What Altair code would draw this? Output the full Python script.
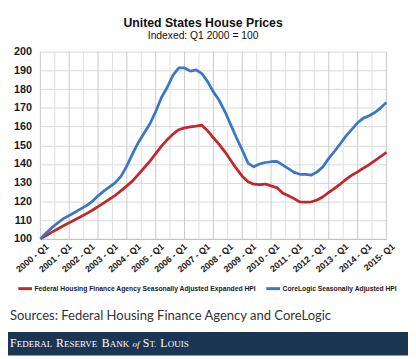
import altair as alt
import pandas as pd

# ---------------- data ----------------
quarters = list(range(61))  # 2000-Q1 ... 2015-Q1

fhfa = [100.0, 101.8, 103.6, 105.3, 107.0, 108.6, 110.2, 111.8, 113.5, 115.3,
        117.2, 119.2, 121.2, 123.3, 125.8, 128.3, 131.0, 134.5, 138.0, 141.5,
        145.5, 149.5, 153.0, 156.0, 158.3, 159.3, 159.8, 160.2, 160.7, 157.8,
        154.0, 150.5, 146.5, 142.0, 137.5, 133.5, 130.5, 129.2, 129.0, 129.3,
        128.3, 127.4, 124.5, 123.0, 121.5, 119.7, 119.6, 119.8, 120.8, 122.5,
        124.8, 127.0, 129.3, 131.8, 134.0, 135.8, 137.8, 139.6, 141.8, 144.0,
        146.2]

corelogic = [100.0, 103.2, 106.0, 108.5, 110.8, 112.5, 114.2, 116.0, 117.8, 120.0,
             123.0, 125.5, 127.8, 130.0, 133.5, 139.0, 145.5, 151.5, 156.5, 161.5,
             168.0, 175.5, 181.0, 187.5, 191.3, 191.3, 189.6, 190.3, 188.3, 184.0,
             178.5, 174.0, 168.0, 161.0, 154.0, 147.5, 140.5, 138.5, 140.0, 140.8,
             141.2, 141.4, 139.5, 137.5, 135.5, 134.5, 134.5, 134.1, 135.8, 138.5,
             143.0, 146.8, 150.8, 155.0, 158.5, 162.0, 164.5, 165.8, 167.5, 170.0,
             172.8]

series_names = ["Federal Housing Finance Agency Seasonally Adjusted Expanded HPI",
                "CoreLogic Seasonally Adjusted HPI"]
series_colors = ["#c1272d", "#3a77c4"]

year_labels = ["2000 - Q1", "2001 - Q1", "2002 - Q1", "2003 - Q1", "2004 - Q1",
               "2005 - Q1", "2006 - Q1", "2007 - Q1", "2008 - Q1", "2009 - Q1",
               "2010 - Q1", "2011 - Q1", "2012 - Q1", "2013 - Q1", "2014 - Q1",
               "2015- Q1"]
label_quarters = [0, 4, 8, 12, 16, 20, 24, 28, 32, 36, 40, 44, 48, 52, 56, 60]
y_ticks = [100, 110, 120, 130, 140, 150, 160, 170, 180, 190, 200]
grid_quarters = [0, 2.5, 5, 7.5, 10, 12.5, 15, 17.5, 20, 22.5, 25, 27.5, 30,
                 32.5, 35, 37.5, 40, 42.5, 45, 47.5, 50, 52.5, 55, 57.5, 60]

title_text = "United States House Prices"
subtitle_text = "Indexed: Q1 2000 = 100"
source_text = "Sources: Federal Housing Finance Agency and CoreLogic"

# ---------------- build ----------------
df = pd.DataFrame({
    "q": quarters + quarters,
    "value": fhfa + corelogic,
    "series": [series_names[0]] * len(quarters) + [series_names[1]] * len(quarters),
})

FONT = "Liberation Sans"
W, H = 353, 191

x_scale = alt.Scale(domain=[0, 60], nice=False, zero=False)
label_expr = "[" + ",".join("'" + s + "'" for s in year_labels) + "][round(datum.value / 4)]"

x_axis = alt.Axis(values=label_quarters, labelExpr=label_expr, labelAngle=-40,
                  grid=False, ticks=False, domain=True, domainColor="#bdbdbd",
                  labelFont=FONT, labelFontSize=9, labelFontWeight="bold",
                  labelColor="#1a1a1a", labelPadding=3, labelOffset=4,
                  labelOverlap=False, labelFlush=False, labelBound=False, title=None)

vgrid = alt.Chart(pd.DataFrame({"g": grid_quarters})).mark_rule(strokeWidth=1).encode(
    x=alt.X("g:Q", scale=x_scale, axis=x_axis),
    color=alt.condition("datum.g % 5 == 0", alt.value("#c9c9c9"), alt.value("#dfdfdf")),
)

lines = alt.Chart(df).mark_line(strokeWidth=2.8, strokeJoin="round").encode(
    x=alt.X("q:Q", scale=x_scale, axis=x_axis),
    y=alt.Y("value:Q", scale=alt.Scale(domain=[100, 200], nice=False, zero=False),
            axis=alt.Axis(values=y_ticks, grid=True, gridColor="#d9d9d9", ticks=False,
                          domain=False, labelFont=FONT, labelFontSize=11,
                          labelFontWeight="bold", labelColor="#1a1a1a", labelPadding=9,
                          title=None)),
    color=alt.Color("series:N", scale=alt.Scale(domain=series_names, range=series_colors),
                    legend=alt.Legend(orient="none", legendX=-24, legendY=233,
                                      direction="horizontal", title=None,
                                      symbolType="stroke", symbolStrokeWidth=3,
                                      symbolSize=196, labelFont=FONT, labelFontSize=6.9,
                                      labelFontWeight="bold", labelColor="#1a1a1a",
                                      labelLimit=500, labelOffset=1, columnPadding=3,
                                      padding=0)),
    order=alt.Order("q:Q"),
)

one = pd.DataFrame({"k": [0]})

def txt(text, x, y, **kw):
    return alt.Chart(one).mark_text(text=text, **kw).encode(x=alt.value(x), y=alt.value(y))

title_l = txt(title_text, 166, -25, font=FONT, fontSize=12.5, fontWeight="bold",
              align="center", baseline="alphabetic", color="#111111")
subtitle_l = txt(subtitle_text, 166, -12.5, font=FONT, fontSize=10.5,
                 align="center", baseline="alphabetic", color="#111111")
source_l = txt(source_text, -31, 274, font="Lato", fontSize=13.3,
               align="left", baseline="alphabetic", color="#333333")

band = alt.Chart(one).mark_rect(color="#1c3553").encode(
    x=alt.value(-33), x2=alt.value(375), y=alt.value(286), y2=alt.value(310))

# small-caps banner, laid out with Times-compatible advance widths
adv = {"F": 556, "E": 611, "D": 722, "R": 667, "A": 722, "L": 611, "S": 556,
       "V": 722, "B": 667, "N": 722, "K": 722, "T": 611, "O": 722, "U": 722,
       "I": 333, ".": 250, " ": 250, "o": 500, "f": 278}
BIG, SMALL = 12.0, 9.2
segs = [("F", BIG, False), ("EDERAL", SMALL, False), (" ", BIG, False),
        ("R", BIG, False), ("ESERVE", SMALL, False), (" ", BIG, False),
        ("B", BIG, False), ("ANK", SMALL, False), (" ", BIG, False),
        ("of", SMALL, True), (" ", BIG, False),
        ("S", BIG, False), ("T.", SMALL, False), (" ", BIG, False),
        ("L", BIG, False), ("OUIS", SMALL, False)]
banner_layers = []
cx = -31.0
for s, size, ital in segs:
    w = sum(adv[c] for c in s) * size / 1000.0 * 1.02
    if s.strip():
        banner_layers.append(txt(s, cx, 301, font="Liberation Serif", fontSize=size,
                                 fontStyle="italic" if ital else "normal",
                                 align="left", baseline="alphabetic", color="#ffffff"))
    cx += w

chart = alt.layer(vgrid, lines, title_l, subtitle_l, source_l, band, *banner_layers).properties(
    width=W, height=H,
    autosize=alt.AutoSizeParams(type="none"),
    padding={"left": 33, "top": 41, "right": 22, "bottom": 119},
    background="#ffffff",
).configure_view(stroke=None)

chart.save("out.html", embed_options={"renderer": "svg", "actions": False})
